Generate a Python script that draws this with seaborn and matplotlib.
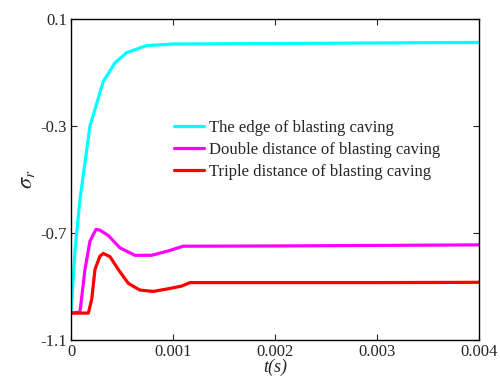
import matplotlib
matplotlib.use("Agg")
import matplotlib.pyplot as plt
import seaborn as sns
import pandas as pd

edge_t = [0, 0.00004, 0.000088, 0.000186, 0.000317, 0.00043, 0.000546, 0.00074, 0.001, 0.002, 0.003, 0.004]
edge_v = [-1.0, -0.762, -0.575, -0.30, -0.134, -0.065, -0.026, 0.0, 0.006, 0.008, 0.010, 0.012]

double_t = [0, 0.000088, 0.000137, 0.000186, 0.000245, 0.000284, 0.000366, 0.00048, 0.000627, 0.00079, 0.00095, 0.0011, 0.002, 0.003, 0.004]
double_v = [-1.0, -0.996, -0.837, -0.731, -0.687, -0.69, -0.71, -0.756, -0.784, -0.784, -0.768, -0.75, -0.749, -0.747, -0.745]

triple_t = [0, 0.00017, 0.000203, 0.000235, 0.000284, 0.000317, 0.000382, 0.000464, 0.000562, 0.000676, 0.000807, 0.000954, 0.001085, 0.001167, 0.002, 0.003, 0.004]
triple_v = [-1.0, -1.0, -0.949, -0.837, -0.787, -0.777, -0.789, -0.837, -0.889, -0.914, -0.919, -0.909, -0.899, -0.886, -0.886, -0.886, -0.885]

labels = ["The edge of blasting caving",
          "Double distance of blasting caving",
          "Triple distance of blasting caving"]
colors = ["#00FFFF", "#FF00FF", "#FF0000"]

xticks = [0, 0.001, 0.002, 0.003, 0.004]
xticklabels = ["0", "0.001", "0.002", "0.003", "0.004"]
yticks = [0.1, -0.3, -0.7, -1.1]
yticklabels = ["0.1", "-0.3", "-0.7", "-1.1"]

frames = []
for t, v, lab in [(edge_t, edge_v, labels[0]), (double_t, double_v, labels[1]), (triple_t, triple_v, labels[2])]:
    frames.append(pd.DataFrame({"t": t, "v": v, "series": lab}))
df = pd.concat(frames, ignore_index=True)

sns.set_style("ticks")
plt.rcParams["font.family"] = ["Liberation Serif", "DejaVu Serif"]
plt.rcParams["mathtext.fontset"] = "stix"

fig = plt.figure(figsize=(5.0, 3.78), dpi=100)
ax = fig.add_axes([0.142, 0.101, 0.816, 0.849])
sns.lineplot(data=df, x="t", y="v", hue="series", hue_order=labels,
             palette=colors, linewidth=2.3, ax=ax, sort=False, estimator=None)

ax.set_xlim(0, 0.004)
ax.set_ylim(-1.1, 0.1)
ax.set_xticks(xticks)
ax.set_xticklabels(xticklabels)
ax.set_yticks(yticks)
ax.set_yticklabels(yticklabels)
ax.tick_params(direction="in", top=True, right=True, labelsize=12, length=4, width=0.8, pad=3)
for s in ax.spines.values():
    s.set_linewidth(1.0)
    s.set_color("black")

ax.set_xlabel("t(s)", fontsize=13, style="italic", labelpad=-1)
ax.set_ylabel(r"$\sigma_r$", fontsize=16, labelpad=2)

leg = ax.legend(loc="upper left", bbox_to_anchor=(0.235, 0.707), frameon=False,
                fontsize=12, handlelength=1.8, handletextpad=0.3, labelspacing=0.38,
                borderaxespad=0)

fig.savefig("out.png", dpi=100)
